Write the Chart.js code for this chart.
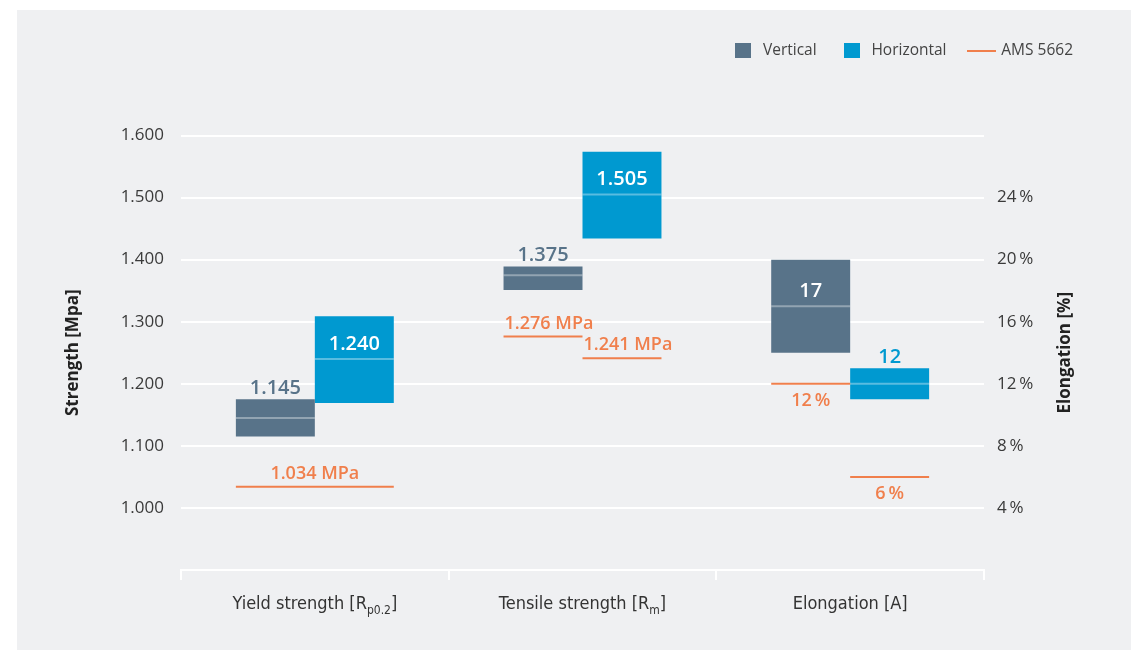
<!DOCTYPE html>
<html>
<head>
<meta charset="utf-8">
<title>Strength and elongation</title>
<script src="https://cdn.jsdelivr.net/npm/chart.js@4.4.1/dist/chart.umd.min.js"></script>
<style>
  body { margin: 0; background: #fff; }
  #panel { position: absolute; left: 17px; top: 10px; width: 1114px; height: 640px; background: #eff0f2; }
</style>
</head>
<body>
<div id="panel"><canvas id="chart"></canvas></div>
<script>
// categories, {..} marks the subscript part
var categories = ['Yield strength [R{p0.2}]', 'Tensile strength [R{m}]', 'Elongation [A]'];

// strength in MPa (first two categories), elongation in % (last one)
var verticalRange = [[1115, 1175], [1351, 1389], [14, 20]];
var horizontalRange = [[1169, 1309], [1434, 1574], [11, 13]];
var verticalMean = [1145, 1375, 17];
var horizontalMean = [1240, 1505, 12];

// AMS 5662 minimum values
var amsVertical = [1034, 1276, 12];
var amsHorizontal = [1034, 1241, 6];

var strengthTicks = [1000, 1100, 1200, 1300, 1400, 1500, 1600];
var elongationTicks = [4, 8, 12, 16, 20, 24];

var colVertical = '#587389';
var colHorizontal = '#0099d0';
var colAms = '#f07f4c';
var fontFam = "'Open Sans', 'Noto Sans', sans-serif";

function fmt(v) {
    var s = String(Math.round(v));
    return s.length > 3 ? s.slice(0, -3) + '.' + s.slice(-3) : s;
}

function plainLabel(c) {
    return c.replace('{', '').replace('}', '');
}

// strength part and elongation part of one series
function strengthPart(arr) {
    return arr.map(function(v, i) { return i < 2 ? v : null; });
}
function elongPart(arr) {
    return arr.map(function(v, i) { return i == 2 ? v : null; });
}

// small canvases used as legend symbols
function legendSymbol(w, h, color) {
    var c = document.createElement('canvas');
    c.width = w;
    c.height = h;
    var g = c.getContext('2d');
    g.fillStyle = color;
    g.fillRect(0, 0, w, h);
    return c;
}

// make room between legend and plot
var legendGap = {
    id: 'legendGap',
    beforeInit: function(chart) {
        var fit = chart.legend.fit;
        chart.legend.fit = function() {
            fit.bind(chart.legend)();
            this.height += 67;
        };
    }
};

// mean lines, value labels, AMS lines
var marks = {
    id: 'marks',
    afterDatasetsDraw: function(chart) {
        var ctx = chart.ctx;
        var series = [
            { ds: [0, 2], mean: verticalMean, color: colVertical },
            { ds: [1, 3], mean: horizontalMean, color: colHorizontal }
        ];
        ctx.save();
        series.forEach(function(s) {
            s.mean.forEach(function(m, i) {
                var dsIndex = i < 2 ? s.ds[0] : s.ds[1];
                var meta = chart.getDatasetMeta(dsIndex);
                var el = meta.data[i];
                var scale = chart.scales[meta.yAxisID];
                var y = scale.getPixelForValue(m);
                var left = el.x - el.width / 2, right = el.x + el.width / 2;
                ctx.strokeStyle = 'rgba(255,255,255,0.35)';
                ctx.lineWidth = 2;
                ctx.beginPath();
                ctx.moveTo(left, y);
                ctx.lineTo(right, y);
                ctx.stroke();

                var top = Math.min(el.y, el.base);
                var h = Math.abs(el.base - el.y);
                var txt = i < 2 ? fmt(m) : String(m);
                ctx.font = '600 20px ' + fontFam;
                ctx.textAlign = 'center';
                ctx.textBaseline = 'alphabetic';
                if (h > 50) {
                    ctx.fillStyle = '#fff';
                    ctx.fillText(txt, el.x, y - 9);
                } else {
                    ctx.fillStyle = s.color;
                    ctx.fillText(txt, el.x, top - 5);
                }
            });
        });

        // AMS 5662 lines
        amsVertical.forEach(function(av, i) {
            var ah = amsHorizontal[i];
            var elV = chart.getDatasetMeta(i < 2 ? 0 : 2).data[i];
            var elH = chart.getDatasetMeta(i < 2 ? 1 : 3).data[i];
            var scale = i < 2 ? chart.scales.y : chart.scales.y2;
            var segs = av === ah
                ? [{ v: av, l: elV.x - elV.width / 2, r: elH.x + elH.width / 2 }]
                : [{ v: av, l: elV.x - elV.width / 2, r: elV.x + elV.width / 2 },
                   { v: ah, l: elH.x - elH.width / 2, r: elH.x + elH.width / 2 }];
            segs.forEach(function(sg) {
                var y = scale.getPixelForValue(sg.v);
                ctx.strokeStyle = colAms;
                ctx.lineWidth = 2;
                ctx.beginPath();
                ctx.moveTo(sg.l, y);
                ctx.lineTo(sg.r, y);
                ctx.stroke();
                ctx.fillStyle = colAms;
                ctx.font = '600 18px ' + fontFam;
                if (i < 2) {
                    ctx.textBaseline = 'alphabetic';
                    if (segs.length > 1) {
                        ctx.textAlign = 'left';
                        ctx.fillText(fmt(sg.v) + ' MPa', sg.l + 1, y - 8);
                    } else {
                        ctx.textAlign = 'center';
                        ctx.fillText(fmt(sg.v) + ' MPa', (sg.l + sg.r) / 2, y - 8);
                    }
                } else {
                    ctx.textAlign = 'center';
                    ctx.textBaseline = 'top';
                    ctx.fillText(sg.v + '\u2009%', (sg.l + sg.r) / 2, y + 8);
                }
            });
        });
        ctx.restore();
    },
    afterDraw: function(chart) {
        var ctx = chart.ctx;
        var xs = chart.scales.x;
        var area = chart.chartArea;
        var narrow = "'Liberation Sans Narrow', 'DejaVu Sans Condensed', sans-serif";
        ctx.save();
        // category labels with subscript
        categories.forEach(function(c, i) {
            var m = c.match(/^(.*)\{(.*)\}(.*)$/);
            var parts = m ? [[m[1], 0], [m[2], 1], [m[3], 0]] : [[c, 0]];
            var total = 0;
            parts.forEach(function(p) {
                ctx.font = (p[1] ? '12px ' : '18px ') + narrow;
                p.push(ctx.measureText(p[0]).width);
                total += p[2];
            });
            var x = xs.getPixelForValue(i) - total / 2;
            var y = area.bottom + 39;
            ctx.fillStyle = '#333';
            ctx.textAlign = 'left';
            ctx.textBaseline = 'alphabetic';
            parts.forEach(function(p) {
                ctx.font = (p[1] ? '12px ' : '18px ') + narrow;
                ctx.fillText(p[0], x, p[1] ? y + 5 : y);
                x += p[2];
            });
        });
        // right axis title, reading upwards
        ctx.translate(area.right + 81, (area.top + area.bottom) / 2);
        ctx.rotate(-Math.PI / 2);
        ctx.font = 'bold 17px ' + fontFam;
        ctx.fillStyle = '#222';
        ctx.textAlign = 'center';
        ctx.textBaseline = 'middle';
        ctx.fillText('Elongation [%]', 0, 0);
        ctx.restore();
    }
};

var ctx = document.getElementById('chart').getContext('2d');
var myChart = new Chart(ctx, {
    type: 'bar',
    data: {
        labels: categories.map(plainLabel),
        datasets: [{
            label: 'Vertical',
            data: strengthPart(verticalRange),
            backgroundColor: colVertical,
            yAxisID: 'y',
            stack: 'v',
            pointStyle: legendSymbol(16, 15, colVertical)
        }, {
            label: 'Horizontal',
            data: strengthPart(horizontalRange),
            backgroundColor: colHorizontal,
            yAxisID: 'y',
            stack: 'h',
            pointStyle: legendSymbol(16, 15, colHorizontal)
        }, {
            label: 'Vertical',
            data: elongPart(verticalRange),
            backgroundColor: colVertical,
            yAxisID: 'y2',
            stack: 'v',
            hideInLegend: true
        }, {
            label: 'Horizontal',
            data: elongPart(horizontalRange),
            backgroundColor: colHorizontal,
            yAxisID: 'y2',
            stack: 'h',
            hideInLegend: true
        }, {
            type: 'line',
            label: 'AMS 5662',
            data: [],
            borderColor: colAms,
            backgroundColor: colAms,
            borderWidth: 2,
            pointStyle: legendSymbol(29, 2, colAms)
        }]
    },
    options: {
        responsive: true,
        maintainAspectRatio: false,
        animation: false,
        categoryPercentage: 0.59,
        barPercentage: 1,
        layout: { padding: { left: 42, right: 35, top: 10, bottom: 0 } },
        plugins: {
            legend: {
                position: 'top',
                align: 'end',
                labels: {
                    usePointStyle: true,
                    pointStyleWidth: 24,
                    boxHeight: 15,
                    padding: 23,
                    color: '#444',
                    font: { family: fontFam, size: 15.5 },
                    filter: function(item, data) {
                        return !data.datasets[item.datasetIndex].hideInLegend;
                    }
                }
            },
            tooltip: { enabled: false }
        },
        scales: {
            x: {
                offset: true,
                grid: { offset: true, drawOnChartArea: false, color: '#fff', lineWidth: 2, tickLength: 10 },
                border: { display: true, color: '#fff', width: 2 },
                ticks: { color: 'transparent', font: { size: 18 } },
                afterFit: function(scale) { scale.height = 80; }
            },
            y: {
                position: 'left',
                stacked: false,
                min: 900,
                max: 1600,
                afterBuildTicks: function(scale) {
                    scale.ticks = [900].concat(strengthTicks).map(function(v) { return { value: v }; });
                },
                ticks: {
                    padding: 17,
                    color: '#3a3a3a',
                    font: { family: fontFam, size: 17 },
                    callback: function(v) { return v === 900 ? '' : fmt(v); }
                },
                grid: {
                    drawTicks: false,
                    lineWidth: 2,
                    color: function(c) { return c.tick && c.tick.value === 900 ? 'transparent' : '#fff'; }
                },
                border: { display: false },
                title: {
                    display: true,
                    text: 'Strength [Mpa]',
                    color: '#222',
                    font: { family: fontFam, size: 17, weight: 'bold' }
                },
                afterFit: function(scale) { scale.width = 122; }
            },
            y2: {
                position: 'right',
                stacked: false,
                min: 0,
                max: 28,
                afterBuildTicks: function(scale) {
                    scale.ticks = elongationTicks.map(function(v) { return { value: v }; });
                },
                ticks: {
                    padding: 13,
                    color: '#3a3a3a',
                    font: { family: fontFam, size: 17 },
                    callback: function(v) { return v + '\u2009%'; }
                },
                grid: { drawOnChartArea: false, drawTicks: false },
                border: { display: false },
                afterFit: function(scale) { scale.width = 112; }
            }
        }
    },
    plugins: [legendGap, marks]
});
</script>
</body>
</html>
